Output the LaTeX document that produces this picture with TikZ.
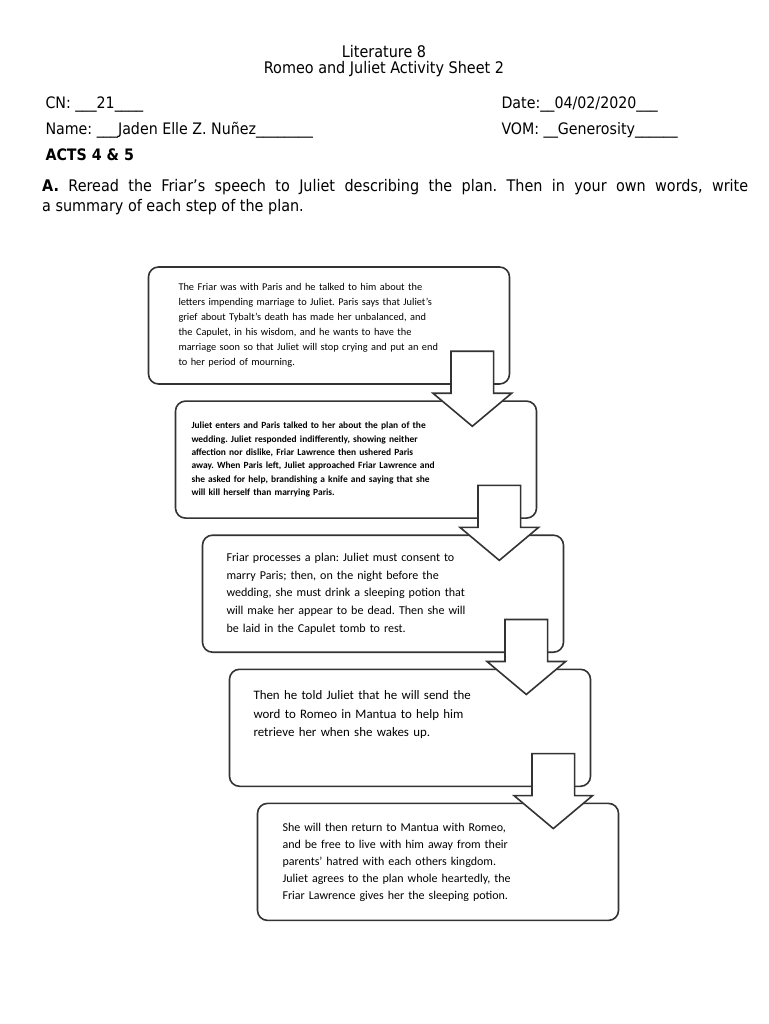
\documentclass[tikz,border=0pt]{standalone}
\usepackage{fontspec}
\setmainfont{DejaVu Sans Condensed}
\newfontfamily\boxfont{Carlito}
\usetikzlibrary{shapes.arrows, positioning, calc}
\frenchspacing

\begin{document}
\begin{tikzpicture}[x=1pt, y=-1pt,
    node distance=15.5pt,
    head/.style={anchor=base west, font=\fontsize{15.8}{18}\selectfont},
    planbox/.style={draw=black!80, line width=1.6pt, rounded corners=10pt, minimum width=361pt, minimum height=117pt, inner sep=0pt, align=left},
    planarrow/.style={draw=black!80, line width=1.6pt, fill=white, single arrow, shape border rotate=270, minimum height=75pt, minimum width=77pt, single arrow head extend=18pt, single arrow tip angle=100, inner sep=20.5pt}
]
    \useasboundingbox (0,0) rectangle (768,1024);
    % heading
    \node[font=\fontsize{16}{18}\selectfont] (title) at (384,52) {Literature 8};
    \node[font=\fontsize{16}{18}\selectfont] (subtitle) at (384,69) {Romeo and Juliet Activity Sheet 2};
    \node[head] (cn) at (42,109) {CN: \_\_\_21\_\_\_\_};
    \node[head] (date) at (498,109) {Date:\_\_04/02/2020\_\_\_};
    \node[head] (name) at (42,135) {Name: \_\_\_Jaden Elle Z. Nuñez\_\_\_\_\_\_\_\_};
    \node[head] (vom) at (498,135) {VOM: \_\_Generosity\_\_\_\_\_\_};
    \node[head, font=\fontsize{15.8}{18}\bfseries] (acts) at (42,161) {ACTS 4 \& 5};
    \node[anchor=north west, align=left, inner sep=0pt, font=\fontsize{16}{20}\selectfont] (task) at (42,179)
        {\makebox[706pt][s]{\textbf{A.} Reread the Friar’s speech to Juliet describing the plan. Then in your own words, write}\\
         a summary of each step of the plan.};

    % steps of the plan
    \node[planbox, text width=301pt, font=\boxfont\fontsize{10.35}{15}\selectfont] (b1) at (329,325.5)
        {The Friar was with Paris and he talked to him about the\\
         letters impending marriage to Juliet. Paris says that Juliet’s\\
         grief about Tybalt’s death has made her unbalanced, and\\
         the Capulet, in his wisdom, and he wants to have the\\
         marriage soon so that Juliet will stop crying and put an end\\
         to her period of mourning.};
    \node[planbox, below=of b1, xshift=27pt, text width=329pt, font=\boxfont\bfseries\fontsize{9.45}{13.4}\selectfont] (b2)
        {Juliet enters and Paris talked to her about the plan of the\\
         wedding. Juliet responded indifferently, showing neither\\
         affection nor dislike, Friar Lawrence then ushered Paris\\
         away. When Paris left, Juliet approached Friar Lawrence and\\
         she asked for help, brandishing a knife and saying that she\\
         will kill herself than marrying Paris.};
    \node[planbox, below=of b2, xshift=27pt, text width=313pt, font=\boxfont\fontsize{12.05}{17.8}\selectfont] (b3)
        {Friar processes a plan: Juliet must consent to\\
         marry Paris; then, on the night before the\\
         wedding, she must drink a sleeping potion that\\
         will make her appear to be dead. Then she will\\
         be laid in the Capulet tomb to rest.};
    \node[planbox, below=of b3, xshift=27pt, text width=313pt, font=\boxfont\fontsize{12.9}{18.2}\selectfont] (b4)
        {Then he told Juliet that he will send the\\
         word to Romeo in Mantua to help him\\
         retrieve her when she wakes up.\\[10pt]\mbox{}};
    \node[planbox, below=of b4, xshift=28pt, text width=311pt, font=\boxfont\fontsize{12}{17}\selectfont] (b5)
        {She will then return to Mantua with Romeo,\\
         and be free to live with him away from their\\
         parents’ hatred with each others kingdom.\\
         Juliet agrees to the plan whole heartedly, the\\
         Friar Lawrence gives her the sleeping potion.};

    % arrows between the steps
    \node[planarrow, anchor=tip] (a1) at ($(b1.east |- b2.north)+(-38,27)$) {};
    \node[planarrow, anchor=tip] (a2) at ($(b2.east |- b3.north)+(-38,27)$) {};
    \node[planarrow, anchor=tip] (a3) at ($(b3.east |- b4.north)+(-38,27)$) {};
    \node[planarrow, anchor=tip] (a4) at ($(b4.east |- b5.north)+(-38,27)$) {};
\end{tikzpicture}
\end{document}
